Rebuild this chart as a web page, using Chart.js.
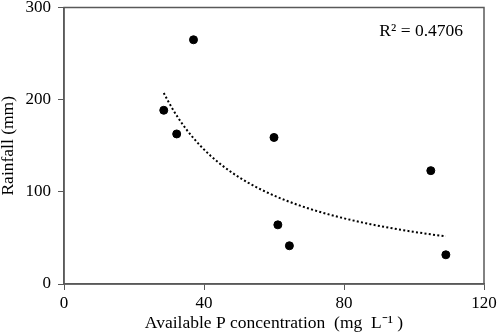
<!DOCTYPE html>
<html>
<head>
<meta charset="utf-8">
<script src="https://cdn.jsdelivr.net/npm/chart.js@4/dist/chart.umd.min.js"></script>
<style>
  html, body { margin: 0; padding: 0; background: #fff; }
  canvas { display: block; }
</style>
</head>
<body>
<canvas id="c" width="498" height="336"></canvas>
<script>
// Available P concentration (mg/L) vs rainfall (mm)
const pConc = [37, 28.5, 32.2, 60, 104.8, 61.1, 64.4, 109.1];
const rainfall = [265, 188.5, 162.8, 159, 123, 64.2, 41.5, 31.7];
const xTicks = [0, 40, 80, 120];
const yTicks = [0, 100, 200, 300];
const r2Label = 'R² = 0.4706';

// power trendline y = a * x^b, least squares on logs (same as Excel)
function powerFit(xs, ys) {
    const lx = xs.map(Math.log), ly = ys.map(Math.log);
    const n = xs.length;
    const mx = lx.reduce((s, v) => s + v, 0) / n;
    const my = ly.reduce((s, v) => s + v, 0) / n;
    let sxy = 0, sxx = 0;
    for (let i = 0; i < n; i++) {
        sxy += (lx[i] - mx) * (ly[i] - my);
        sxx += (lx[i] - mx) * (lx[i] - mx);
    }
    const b = sxy / sxx;
    return { a: Math.exp(my - b * mx), b };
}
const fit = powerFit(pConc, rainfall);
const xMin = Math.min(...pConc), xMax = Math.max(...pConc);
const trend = [];
for (let i = 0; i <= 60; i++) {
    const x = xMin + (xMax - xMin) * i / 60;
    trend.push({ x, y: fit.a * Math.pow(x, fit.b) });
}

const serif = 'Liberation Serif';
const axisColor = '#595959';

const framePlugin = {
    id: 'frame',
    afterDraw(chart) {
        const { ctx, chartArea: a } = chart;
        ctx.save();
        ctx.strokeStyle = axisColor;
        ctx.lineWidth = 1.5;
        ctx.strokeRect(a.left, a.top, a.right - a.left, a.bottom - a.top);
        ctx.fillStyle = '#000';
        ctx.font = '17.5px "' + serif + '"';
        ctx.textAlign = 'right';
        ctx.textBaseline = 'middle';
        ctx.fillText(r2Label, a.right - 21, a.top + 24);
        ctx.restore();
    }
};

new Chart(document.getElementById('c').getContext('2d'), {
    type: 'scatter',
    data: {
        datasets: [
            {
                data: pConc.map((x, i) => ({ x, y: rainfall[i] })),
                backgroundColor: '#000',
                borderColor: '#000',
                pointRadius: 4,
                pointHoverRadius: 4
            },
            {
                type: 'line',
                data: trend,
                borderColor: '#000',
                borderWidth: 2,
                borderDash: [2, 2.3],
                pointRadius: 0,
                fill: false,
                tension: 0
            }
        ]
    },
    plugins: [framePlugin],
    options: {
        responsive: false,
        animation: false,
        layout: { padding: { top: 7.5, right: 14, bottom: 0, left: 0 } },
        plugins: { legend: { display: false }, tooltip: { enabled: false } },
        scales: {
            x: {
                type: 'linear',
                min: 0, max: 120,
                afterBuildTicks: s => { s.ticks = xTicks.map(v => ({ value: v })); },
                afterFit: s => { s.height = 52; s.paddingLeft = 0; s.paddingRight = 0; },
                grid: { drawOnChartArea: false, color: axisColor, tickLength: 6, tickColor: axisColor },
                border: { color: axisColor, width: 1.5 },
                ticks: { color: '#000', font: { family: serif, size: 17 }, padding: 3, maxRotation: 0 },
                title: {
                    display: true,
                    text: 'Available P concentration  (mg  L⁻¹ )',
                    color: '#000',
                    font: { family: serif, size: 17.5 },
                    padding: { top: 0, bottom: 2 }
                }
            },
            y: {
                min: 0, max: 300,
                afterBuildTicks: s => { s.ticks = yTicks.map(v => ({ value: v })); },
                afterFit: s => { s.width = 64; s.paddingTop = 0; s.paddingBottom = 0; },
                grid: { drawOnChartArea: false, color: axisColor, tickLength: 6, tickColor: axisColor },
                border: { color: axisColor, width: 1.5 },
                ticks: { color: '#000', font: { family: serif, size: 17 }, padding: 7 },
                title: {
                    display: true,
                    text: 'Rainfall (mm)',
                    color: '#000',
                    font: { family: serif, size: 17.5, lineHeight: 1 },
                    padding: { top: 0, bottom: 0 }
                }
            }
        }
    }
});
</script>
</body>
</html>
